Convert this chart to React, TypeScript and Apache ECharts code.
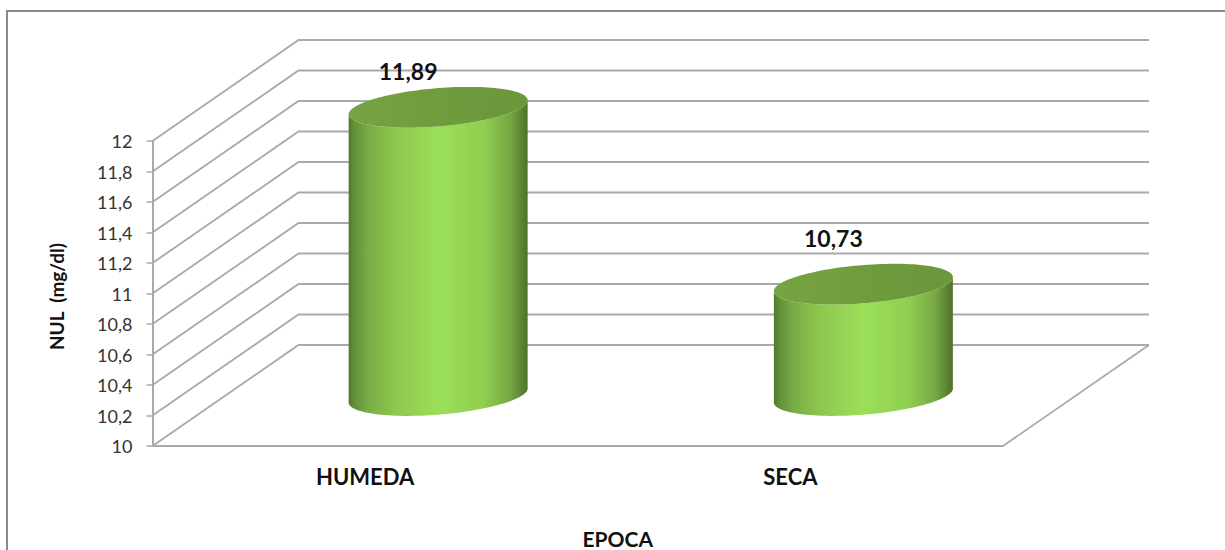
import React, { useEffect, useRef } from "react";
import * as echarts from "echarts";

// Nitrogen in milk (NUL) by season
const categories = ["HUMEDA", "SECA"];
const nulValues = [11.89, 10.73];
const yTicks = [10, 10.2, 10.4, 10.6, 10.8, 11, 11.2, 11.4, 11.6, 11.8, 12];
const valueLabelLift = [36, 46];
const valueLabelShift = [-30, -30];

// Oblique projection of the 3D box: how far the back wall sits from the front plane
const DEPTH_X = 146;
const DEPTH_Y = -101;

// Cylinder cross-section: half width, half height, tilt of the tangent points
const HALF_W = 89.5;
const HALF_H = 20.4;
const TILT = 7;

const FONT = "Lato, Carlito, 'Open Sans', sans-serif";
const WALL = "#a9a9a9";

const decimal = (v: number) => String(v).replace(".", ",");

function rimPoint(cx: number, cy: number, t: number): number[] {
  const minor = Math.sqrt(HALF_H * HALF_H - TILT * TILT);
  return [cx + HALF_W * Math.cos(t), cy - TILT * Math.cos(t) + minor * Math.sin(t)];
}

function renderWall(params: any, api: any) {
  const v = api.value(1);
  const sys = params.coordSys;
  const y = api.coord([0, v])[1];
  const left = sys.x;
  const right = sys.x + sys.width;
  const children: any[] = [
    {
      type: "polyline",
      shape: { points: [[left, y], [left + DEPTH_X, y + DEPTH_Y], [right + DEPTH_X, y + DEPTH_Y]] },
      style: { stroke: WALL, lineWidth: 1.8, fill: "none" },
    },
  ];
  if (v === yTicks[0]) {
    children.push({
      type: "line",
      shape: { x1: right, y1: y, x2: right + DEPTH_X, y2: y + DEPTH_Y },
      style: { stroke: WALL, lineWidth: 1.8 },
    });
  }
  return { type: "group", children };
}

const sideFill = new echarts.graphic.LinearGradient(0, 0, 1, 0, [
  { offset: 0, color: "#4f7a2b" },
  { offset: 0.03, color: "#618f37" },
  { offset: 0.1, color: "#78a945" },
  { offset: 0.25, color: "#8dc64f" },
  { offset: 0.5, color: "#9bdf59" },
  { offset: 0.75, color: "#90cf51" },
  { offset: 0.9, color: "#78a844" },
  { offset: 0.97, color: "#5a8232" },
  { offset: 1, color: "#4e712b" },
]);

const capFill = new echarts.graphic.LinearGradient(0, 0, 1, 0, [
  { offset: 0, color: "#76a443" },
  { offset: 0.5, color: "#6f9c3d" },
  { offset: 1, color: "#6b973b" },
]);

function renderCylinder(params: any, api: any) {
  const i = api.value(0);
  const v = api.value(1);
  const top = api.coord([i, v]);
  const base = api.coord([i, yTicks[0]]);
  const cx = top[0] + DEPTH_X / 2;
  const topY = top[1] + DEPTH_Y / 2;
  const baseY = base[1] + DEPTH_Y / 2;

  const steps = 64;
  const body: number[][] = [];
  for (let k = 0; k <= steps; k++) body.push(rimPoint(cx, baseY, (Math.PI * k) / steps));
  for (let k = 0; k <= steps; k++) body.push(rimPoint(cx, topY, Math.PI - (Math.PI * k) / steps));
  const cap: number[][] = [];
  for (let k = 0; k < steps * 2; k++) cap.push(rimPoint(cx, topY, (Math.PI * k) / steps));

  return {
    type: "group",
    children: [
      { type: "polygon", shape: { points: body }, style: { fill: sideFill } },
      { type: "polygon", shape: { points: cap }, style: { fill: capFill } },
      {
        type: "text",
        style: {
          x: cx + valueLabelShift[i],
          y: topY - valueLabelLift[i],
          text: decimal(v),
          fill: "#111",
          font: `bold 23px ${FONT}`,
          align: "center",
          verticalAlign: "middle",
        },
      },
    ],
  };
}

export default function App() {
  const ref = useRef<HTMLDivElement>(null);

  useEffect(() => {
    const chart = echarts.init(ref.current!, null, { renderer: "svg" });
    chart.setOption({
      animation: false,
      backgroundColor: "#fff",
      graphic: [
        {
          type: "rect",
          shape: { x: 7, y: 11, width: 1300, height: 600 },
          style: { fill: "none", stroke: "#8a8a8a", lineWidth: 2 },
          silent: true,
          z: -10,
        },
      ],
      grid: { left: 152.5, right: 222, top: 141, bottom: 104, outerBoundsMode: "none" },
      xAxis: {
        type: "category",
        data: categories,
        axisLine: { lineStyle: { color: WALL, width: 2 } },
        axisTick: { show: false },
        axisLabel: { color: "#111", fontFamily: FONT, fontWeight: "bold", fontSize: 22, margin: 19 },
        name: "EPOCA",
        nameLocation: "middle",
        nameGap: 82,
        nameTextStyle: { color: "#111", fontFamily: FONT, fontWeight: "bold", fontSize: 21, padding: [0, 0, 0, 80] },
      },
      yAxis: {
        type: "value",
        min: 10,
        max: 12,
        interval: 0.2,
        splitLine: { show: false },
        axisLine: { show: true, lineStyle: { color: WALL, width: 2 } },
        axisTick: { show: true, length: 6, lineStyle: { color: WALL, width: 1.5 } },
        axisLabel: { color: "#333", fontFamily: FONT, fontSize: 18, margin: 20, formatter: (v: number) => decimal(v) },
        name: "NUL  (mg/dl)",
        nameLocation: "middle",
        nameGap: 87,
        nameTextStyle: { color: "#111", fontFamily: FONT, fontWeight: "bold", fontSize: 19, padding: [0, 6, 0, 0] },
      },
      series: [
        { type: "custom", data: yTicks.map((v) => [0, v]), encode: { x: 0, y: 1 }, renderItem: renderWall, silent: true, z: 1 },
        { type: "custom", data: nulValues.map((v, i) => [i, v]), encode: { x: 0, y: 1 }, renderItem: renderCylinder, silent: true, z: 2 },
      ],
    });
    return () => chart.dispose();
  }, []);

  return <div ref={ref} style={{ position: "absolute", left: 0, top: 0, width: 1225, height: 550 }} />;
}
